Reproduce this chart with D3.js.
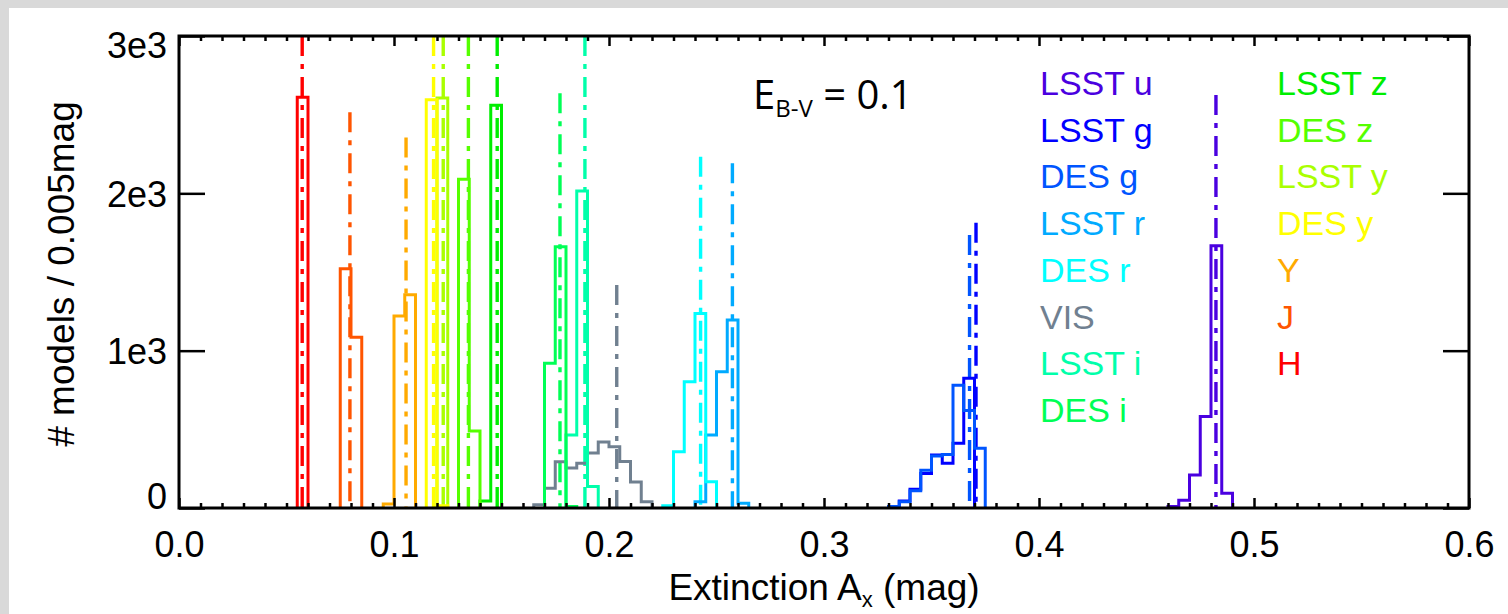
<!DOCTYPE html>
<html><head><meta charset="utf-8">
<script src="https://cdn.jsdelivr.net/npm/d3@7"></script>
<style>html,body{margin:0;padding:0;background:#fff;} svg{display:block}</style>
</head><body><svg id="c" width="1508" height="614"></svg>
<script>
// ---- data ----
const filters   = ["LSST u","LSST g","DES g","LSST r","DES r","VIS","LSST i","DES i","LSST z","DES z","LSST y","DES y","Y","J","H"];
const palette   = ["#4a00e0","#0000ff","#0055ff","#00aaff","#00ffff","#708090","#00ffaa","#00ff55","#00ee00","#55ff00","#aaff00","#ffff00","#ffaa00","#ff5500","#ff0000"];
const binWidth  = 0.005;
const binStart  = [0.460,0.335,0.330,0.240,0.225,0.165,0.180,0.170,0.140,0.130,0.120,0.115,0.095,0.075,0.055];
const counts = [
  [10,50,210,581,1667,93],                      // LSST u
  [45,119,220,337,284,411,824],                 // LSST g
  [10,40,110,240,330,340,780,620,380],          // DES g
  [40,464,866,1195,30],                         // LSST r
  [15,358,803,1237,167],                        // DES r
  [20,125,294,255,285,350,420,390,295,165,40],  // VIS
  [464,2015,136],                               // LSST i
  [920,1660,10],                                // DES i
  [45,2560],                                    // LSST z
  [2090,490],                                   // DES z
  [2606],                                       // LSST y
  [2595,15],                                    // DES y
  [25,1220,1355],                               // Y
  [1520,1085],                                  // J
  [2610]                                        // H
];
const meanExt   = [0.4823,0.3707,0.3677,0.2574,0.2426,0.2036,0.1888,0.1772,0.1480,0.1346,0.1229,0.1184,0.1056,0.0795,0.0573];
const markerTop = [2625,1813,1735,2191,2233,1417,3000,2636,3000,3000,3000,3000,2355,2515,3000];
const xTicks = [0,0.1,0.2,0.3,0.4,0.5,0.6];
const xTickLabels = ["0.0","0.1","0.2","0.3","0.4","0.5","0.6"];
const yTicks = [0,1000,2000,3000];
const yTickLabels = ["0","1e3","2e3","3e3"];

// ---- layout ----
const W = 1508, H = 614;
const L = 179, R = 1469, T = 36, B = 508;
const svg = d3.select("#c");
svg.append("rect").attr("width",W).attr("height",H).attr("fill","#d9d9d9");
svg.append("rect").attr("x",9).attr("y",8).attr("width",W-9).attr("height",H-8).attr("fill","#fff");

const x = d3.scaleLinear().domain([0,0.6]).range([L,R]);
const y = d3.scaleLinear().domain([0,3000]).range([B,T]);
const FONT = "'Liberation Sans', Arial, Helvetica, sans-serif";

const plot = svg.append("g");
svg.append("clipPath").attr("id","clip").append("rect").attr("x",L).attr("y",T-2).attr("width",R-L).attr("height",B-T+4);

// dash-dot markers
const gm = plot.append("g").attr("clip-path","url(#clip)");
filters.forEach((f,i)=>{
  gm.append("line")
    .attr("x1",x(meanExt[i])).attr("x2",x(meanExt[i]))
    .attr("y1",y(markerTop[i])).attr("y2",y(0))
    .attr("stroke",palette[i]).attr("stroke-width",3.4)
    .attr("stroke-dasharray","20,8,5,8");
});

// histograms
const line = d3.line().x(d=>x(d[0])).y(d=>y(d[1])).curve(d3.curveStepAfter);
filters.forEach((f,i)=>{
  const pts = [[binStart[i],0]];
  counts[i].forEach((c,k)=>pts.push([binStart[i]+k*binWidth,c]));
  pts.push([binStart[i]+counts[i].length*binWidth,0]);
  plot.append("path").attr("d",line(pts)).attr("fill","none")
    .attr("stroke",palette[i]).attr("stroke-width",3).attr("stroke-linejoin","miter");
});

// frame
const ax = svg.append("g").attr("stroke","#000").attr("stroke-width",3);
ax.append("rect").attr("x",L).attr("y",T).attr("width",R-L).attr("height",B-T).attr("fill","none");

// x ticks (bottom & top) via d3 axes
const xMinor = d3.range(0,61).map(k=>k/100).filter(v=>Math.round(v*100)%10!==0);
function styleAxis(g){ g.select(".domain").remove(); g.selectAll("line").attr("stroke","#000").attr("stroke-width",2.5); }
svg.append("g").attr("transform",`translate(0,${B})`)
  .call(d3.axisBottom(x).tickValues(xMinor).tickSize(-5).tickFormat("")).call(styleAxis);
svg.append("g").attr("transform",`translate(0,${T})`)
  .call(d3.axisTop(x).tickValues(xMinor).tickSize(-5).tickFormat("")).call(styleAxis);
svg.append("g").attr("transform",`translate(0,${T})`)
  .call(d3.axisTop(x).tickValues(xTicks).tickSize(-10).tickFormat("")).call(styleAxis);
const xb = svg.append("g").attr("transform",`translate(0,${B})`)
  .call(d3.axisBottom(x).tickValues(xTicks).tickSize(-10).tickPadding(0).tickFormat((d,i)=>xTickLabels[i])).call(styleAxis);
xb.selectAll("text").attr("font-family",FONT).attr("font-size",36).attr("fill","#000")
  .attr("y",49).attr("dy",0);

// y ticks left & right
svg.append("g").attr("transform",`translate(${R},0)`)
  .call(d3.axisRight(y).tickValues(yTicks).tickSize(-26).tickFormat("")).call(styleAxis);
const yl = svg.append("g").attr("transform",`translate(${L},0)`)
  .call(d3.axisLeft(y).tickValues(yTicks).tickSize(-26).tickPadding(0).tickFormat((d,i)=>yTickLabels[i])).call(styleAxis);
const yShift = [0,13,13,21];
yl.selectAll("text").attr("font-family",FONT).attr("font-size",36).attr("fill","#000")
  .attr("x",-12).attr("dy",(d,i)=>yShift[i]);

// axis titles
svg.append("text").attr("transform",`translate(74,${(T+B)/2+2}) rotate(-90)`)
  .attr("text-anchor","middle").attr("font-family",FONT).attr("font-size",37).attr("fill","#000")
  .text("# models / 0.005mag");
const xt = svg.append("text").attr("x",(L+R)/2).attr("y",600).attr("text-anchor","middle")
  .attr("font-family",FONT).attr("font-size",37).attr("fill","#000");
xt.append("tspan").text("Extinction A");
xt.append("tspan").attr("font-size",22).attr("dy",7).text("x");
xt.append("tspan").attr("dy",-7).text(" (mag)");

// annotation
const an = svg.append("text").attr("x",753).attr("y",109).attr("font-family","'Open Sans', sans-serif")
  .attr("font-size",40).attr("fill","#000");
an.append("tspan").text("E");
an.append("tspan").attr("font-size",24).attr("dy",8).text("B-V");
an.append("tspan").attr("dy",-8).text(" = 0.1");

// legend
const lg = svg.append("g").attr("font-family",FONT).attr("font-size",34);
filters.forEach((f,i)=>{
  const col = i<8?0:1, row = i<8?i:i-8;
  lg.append("text").attr("x",col?1277:1040).attr("y",95+row*46.7).attr("fill",palette[i]).text(f);
});
</script></body></html>
